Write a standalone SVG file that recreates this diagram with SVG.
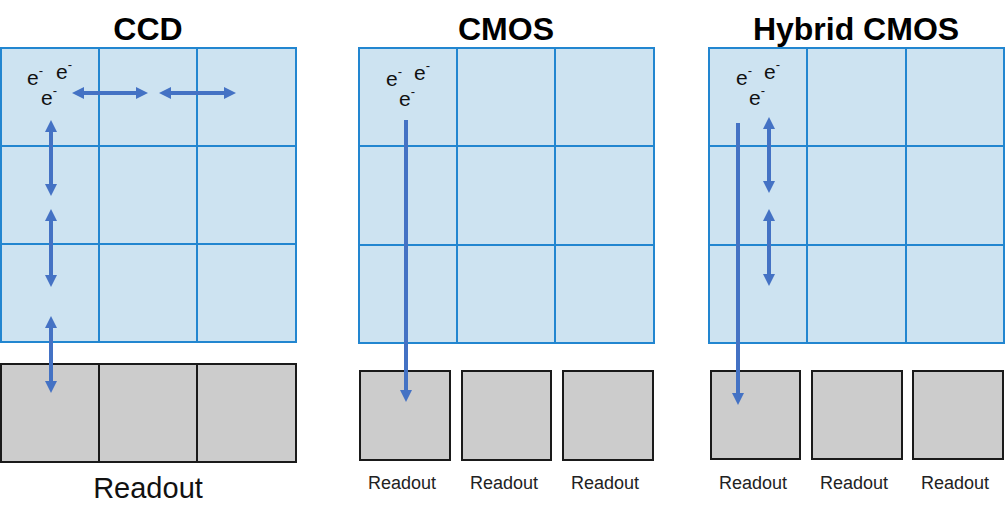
<svg xmlns="http://www.w3.org/2000/svg" width="1005" height="525" viewBox="0 0 1005 525">
<style>
.px{fill:#CDE3F1;stroke:#2286D0;stroke-width:2}
.ro{fill:#CCCCCC;stroke:#1A1A1A;stroke-width:2}
.title{font-family:"Liberation Sans",Arial,sans-serif;font-weight:bold;font-size:32px;fill:#000;text-anchor:middle}
.lbl{font-family:"Liberation Sans",Arial,sans-serif;font-size:18px;fill:#222;text-anchor:middle}
.lblb{font-family:"Liberation Sans",Arial,sans-serif;font-size:29px;fill:#111;text-anchor:middle}
.e{font-family:"Liberation Sans",Arial,sans-serif;font-size:21px;fill:#111}
.sup{font-size:13px}
.ar{stroke:#4472C4;stroke-width:4;fill:none}
</style>
<defs>
<marker id="ah" viewBox="0 0 12 12" markerWidth="12" markerHeight="12" refX="4" refY="6" orient="auto-start-reverse" markerUnits="userSpaceOnUse"><path d="M0,0 L12,6 L0,12 z" fill="#4472C4"/></marker>
</defs>
<rect width="1005" height="525" fill="#fff"/>

<g id="ccd">
<text class="title" x="148" y="40">CCD</text>
<rect class="px" x="1" y="48" width="295" height="294"/>
<path class="px" d="M99,48V342M197,48V342M1,146H296M1,244H296" fill="none"/>
<rect class="ro" x="1" y="364" width="295" height="98"/>
<path class="ro" d="M99,364V462M197,364V462"/>
<text class="lblb" x="148" y="498">Readout</text>
<text class="e"><tspan x="27" y="85">e</tspan><tspan class="sup" y="75">-</tspan><tspan x="56" y="79">e</tspan><tspan class="sup" y="69">-</tspan><tspan x="41" y="105">e</tspan><tspan class="sup" y="95">-</tspan></text>
</g>

<g id="cmos">
<text class="title" x="506" y="40">CMOS</text>
<rect class="px" x="359" y="48" width="295" height="295"/>
<path class="px" d="M457,48V343M555,48V343M359,146H654M359,245H654" fill="none"/>
<rect class="ro" x="360" y="371" width="90" height="89"/>
<rect class="ro" x="462" y="371" width="89" height="89"/>
<rect class="ro" x="563" y="371" width="90" height="89"/>
<text class="lbl" x="402" y="489">Readout</text>
<text class="lbl" x="504" y="489">Readout</text>
<text class="lbl" x="605" y="489">Readout</text>
<text class="e"><tspan x="386" y="86">e</tspan><tspan class="sup" y="76">-</tspan><tspan x="414" y="80">e</tspan><tspan class="sup" y="70">-</tspan><tspan x="399" y="106">e</tspan><tspan class="sup" y="96">-</tspan></text>
</g>

<g id="hybrid">
<text class="title" x="856" y="40">Hybrid CMOS</text>
<rect class="px" x="709" y="48" width="295" height="295"/>
<path class="px" d="M807,48V343M906,48V343M709,146H1004M709,245H1004" fill="none"/>
<rect class="ro" x="711" y="371" width="89" height="88"/>
<rect class="ro" x="812" y="371" width="90" height="88"/>
<rect class="ro" x="913" y="371" width="90" height="88"/>
<text class="lbl" x="753" y="489">Readout</text>
<text class="lbl" x="854" y="489">Readout</text>
<text class="lbl" x="955" y="489">Readout</text>
<text class="e"><tspan x="736" y="85">e</tspan><tspan class="sup" y="75">-</tspan><tspan x="764" y="79">e</tspan><tspan class="sup" y="69">-</tspan><tspan x="749" y="105">e</tspan><tspan class="sup" y="95">-</tspan></text>
</g>

<g id="connectors">
<line class="ar" x1="80" y1="93" x2="140" y2="93" marker-start="url(#ah)" marker-end="url(#ah)"/>
<line class="ar" x1="167" y1="93" x2="228" y2="93" marker-start="url(#ah)" marker-end="url(#ah)"/>
<line class="ar" x1="51" y1="128" x2="51" y2="188" marker-start="url(#ah)" marker-end="url(#ah)"/>
<line class="ar" x1="51" y1="217" x2="51" y2="279" marker-start="url(#ah)" marker-end="url(#ah)"/>
<line class="ar" x1="51" y1="324" x2="51" y2="385" marker-start="url(#ah)" marker-end="url(#ah)"/>
<line class="ar" x1="406" y1="120" x2="406" y2="394" marker-end="url(#ah)"/>
<line class="ar" x1="738" y1="123" x2="738" y2="397" marker-end="url(#ah)"/>
<line class="ar" x1="769" y1="125" x2="769" y2="185" marker-start="url(#ah)" marker-end="url(#ah)"/>
<line class="ar" x1="769" y1="217" x2="769" y2="278" marker-start="url(#ah)" marker-end="url(#ah)"/>
</g>
</svg>
